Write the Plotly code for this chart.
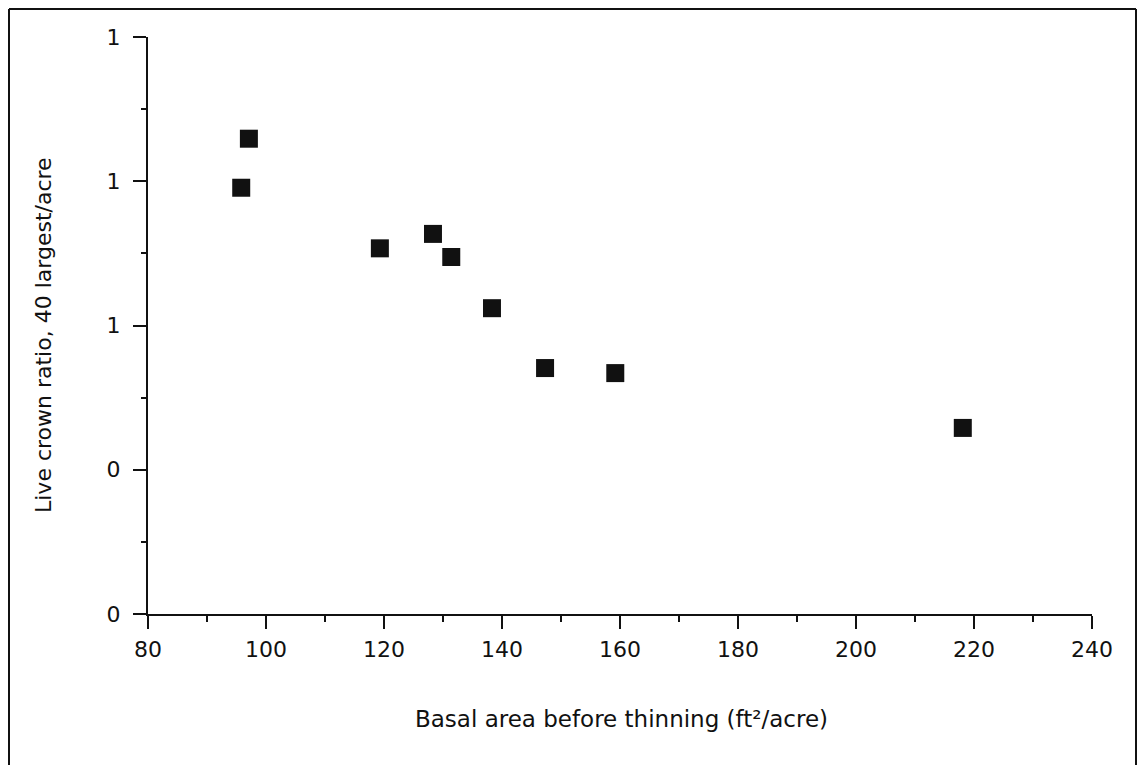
import plotly.graph_objects as go

basal_area = [95.8, 97.1, 119.3, 128.3, 131.4, 138.3, 147.3, 159.2, 218.1]
crown_ratio = [0.791, 0.859, 0.707, 0.727, 0.695, 0.624, 0.541, 0.534, 0.458]

x_ticks = [80, 100, 120, 140, 160, 180, 200, 220, 240]
y_ticks = [0.2, 0.4, 0.6, 0.8, 1.0]

FONT = "DejaVu Sans, Liberation Sans, Arial, sans-serif"
INK = "#111111"

fig = go.Figure()
fig.add_trace(go.Scatter(
    x=basal_area, y=crown_ratio, mode="markers",
    marker=dict(symbol="square", size=18, color="#111111", line=dict(width=0)),
    showlegend=False, hoverinfo="x+y",
))

W, H = 1139, 765
L, R, T, B = 148, 47, 37, 151
pw, ph = W - L - R, H - T - B

fig.update_layout(
    width=W, height=H,
    margin=dict(l=L, r=R, t=T, b=B, pad=0),
    paper_bgcolor="white", plot_bgcolor="white",
    font=dict(family=FONT, size=22, color=INK),
    xaxis=dict(
        range=[80, 240], tickvals=x_ticks, ticktext=[str(v) for v in x_ticks],
        showgrid=False, zeroline=False, showline=True, linecolor=INK, linewidth=2,
        ticks="outside", ticklen=13, tickwidth=2, tickcolor=INK,
        minor=dict(dtick=10, tick0=80, ticks="outside", ticklen=6, tickwidth=2, tickcolor=INK, showgrid=False),
        tickfont=dict(family=FONT, size=22, color=INK),
        ticklabelstandoff=2,
    ),
    yaxis=dict(
        range=[0.2, 1.0], tickvals=y_ticks, tickformat=".0f",
        showgrid=False, zeroline=False, showline=True, linecolor=INK, linewidth=2,
        ticks="outside", ticklen=13, tickwidth=2, tickcolor=INK,
        minor=dict(dtick=0.1, tick0=0.2, ticks="outside", ticklen=5, tickwidth=2, tickcolor=INK, showgrid=False),
        tickfont=dict(family=FONT, size=22, color=INK),
        ticklabelstandoff=8,
    ),
)

def px_x(p):
    return (p - L) / pw

def px_y(p):
    return (H - B - p) / ph

fig.add_annotation(
    text="Basal area before thinning (ft²/acre)", xref="paper", yref="paper",
    x=px_x(621), y=px_y(719), showarrow=False, xanchor="center", yanchor="middle",
    font=dict(family=FONT, size=23, color=INK),
)
fig.add_annotation(
    text="Live crown ratio, 40 largest/acre", xref="paper", yref="paper",
    x=px_x(43), y=px_y(335), showarrow=False, xanchor="center", yanchor="middle",
    textangle=-90, font=dict(family=FONT, size=22, color=INK),
)

# outer frame (left, top, right)
for x0, y0, x1, y1 in [(9, 768, 9, 9), (9, 9, 1136, 9), (1136, 9, 1136, 768)]:
    fig.add_shape(type="line", xref="paper", yref="paper",
                  x0=px_x(x0), y0=px_y(y0), x1=px_x(x1), y1=px_y(y1),
                  line=dict(color=INK, width=2))

fig.write_html("out.html")
